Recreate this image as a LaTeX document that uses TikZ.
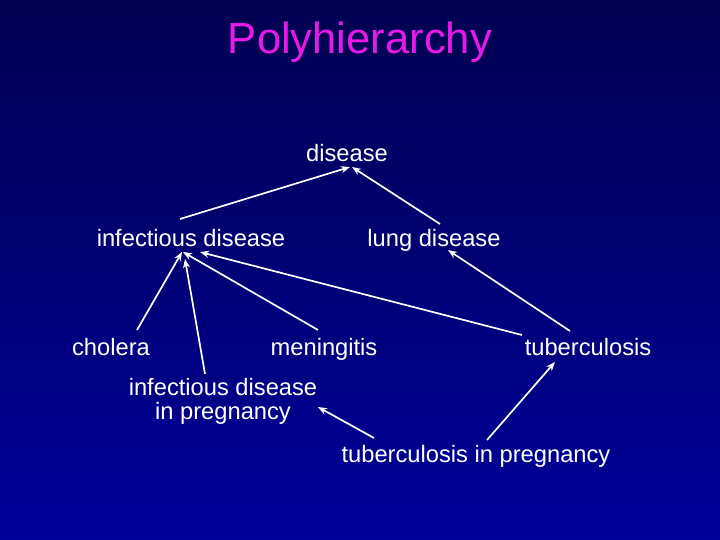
\documentclass[tikz,border=0pt]{standalone}
\usepackage{fontspec}
\setmainfont{Liberation Sans}
\usetikzlibrary{arrows.meta,calc}
\definecolor{bgtop}{RGB}{0,0,80}
\definecolor{bgbot}{RGB}{0,0,155}
\definecolor{titlemag}{RGB}{230,25,230}
\begin{document}
\begin{tikzpicture}[x=1pt,y=-1pt,
  term/.style={text=white,inner sep=0pt,anchor=base,font=\fontsize{23.7}{24}\selectfont},
  link/.style={draw=white,line width=1.7pt,-{Stealth[length=9pt,width=7pt]}}]
\useasboundingbox (0,0) rectangle (720,540);
\shade[top color=bgtop,bottom color=bgbot] (0,0) rectangle (720,540);
\node[inner sep=0pt,anchor=base,text=titlemag,font=\fontsize{43.6}{48}\selectfont] (title) at (360,54) {Polyhierarchy};
\node[term] (dis) at (347,162) {disease};
\node[term] (inf) at (191,246) {infectious disease};
\node[term] (lung) at (434,246) {lung disease};
\node[term] (chol) at (111,355) {cholera};
\node[term] (men) at (324,355) {meningitis};
\node[term] (tub) at (588,355) {tuberculosis};
\node[term,align=center] (ip) at (223,419) {infectious disease\\in pregnancy};
\node[term] (tp) at (476,462) {tuberculosis in pregnancy};
\draw[link] ($(inf.base)+(-11,-27)$) -- ($(dis.base)+(3,5)$);
\draw[link] ($(lung.base)+(6,-22)$) -- ($(dis.base)+(5,5)$);
\draw[link] ($(chol.base)+(26,-25)$) -- ($(inf.base)+(-9,6)$);
\draw[link] ($(ip.base)+(-18,-45)$) -- ($(inf.base)+(-6,13)$);
\draw[link] ($(men.base)+(-6,-25)$) -- ($(inf.base)+(-8,6)$);
\draw[link] ($(tub.base)+(-66,-20)$) -- ($(inf.base)+(9,6)$);
\draw[link] ($(tub.base)+(-18,-24)$) -- ($(lung.base)+(14,4)$);
\draw[link] ($(tp.base)+(11,-22)$) -- ($(tub.base)+(-33,7)$);
\draw[link] ($(tp.base)+(-102,-24)$) -- ($(ip.base)+(95,-12)$);
\end{tikzpicture}
\end{document}
